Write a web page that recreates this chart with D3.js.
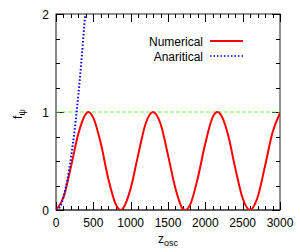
<!DOCTYPE html>
<html><head><meta charset="utf-8">
<script src="https://cdn.jsdelivr.net/npm/d3@7"></script>
<style>body{margin:0;background:#fff}svg{display:block}text{font-family:"Liberation Sans",Arial,sans-serif}</style>
</head><body><svg id="c" width="300" height="252"></svg>
<script>
const numZ = [0,100,200,300,400,433,500,600,700,800,866,900,1000,1100,1200,1299,1400,1500,1600,1700,1732,1800,1900,2000,2100,2165,2200,2300,2400,2500,2598,2700,2800,2900,3000];
const numF = [0,0.13,0.44,0.78,0.98,1.00,0.94,0.68,0.32,0.06,0.00,0.02,0.22,0.56,0.88,1.00,0.88,0.56,0.22,0.01,0.00,0.06,0.33,0.68,0.95,1.00,0.98,0.78,0.43,0.12,0.00,0.13,0.45,0.79,0.99];
const anaZ = [0,50,100,150,200,250,300,350,400];
const anaF = [0,0.03,0.13,0.30,0.53,0.82,1.18,1.61,2.10];
const refLevel = 1;
const xTickLabels = [0,500,1000,1500,2000,2500,3000];
const yTickLabels = [0,1,2];
const legendLabels = ["Numerical","Anaritical"];

const svg = d3.select("#c");
const L=56, R=280, T=14, B=210;
const x = d3.scaleLinear().domain([0,3000]).range([L,R]);
const y = d3.scaleLinear().domain([0,2]).range([B,T]);

svg.append("clipPath").attr("id","cp").append("rect").attr("x",L).attr("y",T).attr("width",R-L).attr("height",B-T);

// frame
svg.append("rect").attr("x",L).attr("y",T).attr("width",R-L).attr("height",B-T).attr("fill","none").attr("stroke","#222").attr("stroke-width",1);
svg.append("line").attr("x1",L).attr("x2",L).attr("y1",T).attr("y2",B).attr("stroke","#888").attr("stroke-width",2);
svg.append("line").attr("x1",L).attr("x2",R).attr("y1",B).attr("y2",B).attr("stroke","#555").attr("stroke-width",1.5);

// ticks
const minorX = d3.range(0,3001,100);
const g = svg.append("g").attr("stroke","#000").attr("stroke-width",1);
minorX.forEach(v=>{
  const len = v%500===0 ? 8 : 4;
  const px = Math.round(x(v))+0.5;
  g.append("line").attr("x1",px).attr("x2",px).attr("y1",B).attr("y2",B-len);
  g.append("line").attr("x1",px).attr("x2",px).attr("y1",T).attr("y2",T+len);
});
const minorY = d3.range(0,2.001,0.25);
minorY.forEach(v=>{
  const len = Math.abs(v-Math.round(v))<1e-6 ? 8 : 4;
  const py = Math.round(y(v))+0.5;
  g.append("line").attr("x1",L).attr("x2",L+len).attr("y1",py).attr("y2",py);
  g.append("line").attr("x1",R).attr("x2",R-len).attr("y1",py).attr("y2",py);
});

// tick labels
svg.selectAll(".xl").data(xTickLabels).enter().append("text")
  .attr("x",d=>x(d)).attr("y",227).attr("text-anchor","middle").attr("font-size",12).attr("fill","#000").text(d=>d);
svg.selectAll(".yl").data(yTickLabels).enter().append("text")
  .attr("x",49).attr("y",d=>y(d)+4.5).attr("text-anchor","end").attr("font-size",12).attr("fill","#000").text(d=>d);

// axis titles
const xt = svg.append("text").attr("x",158).attr("y",243).attr("font-size",12).attr("fill","#000");
xt.append("tspan").text("z");
xt.append("tspan").attr("dy",3).attr("font-size",9).text("osc");
const yt = svg.append("text").attr("transform","translate(22,114) rotate(-90)").attr("text-anchor","middle").attr("font-size",12).attr("fill","#000");
yt.append("tspan").text("f");
yt.append("tspan").attr("dy",3).attr("font-size",9).text("ψ");

const plot = svg.append("g").attr("clip-path","url(#cp)");
plot.append("line").attr("x1",L).attr("x2",R).attr("y1",y(refLevel)).attr("y2",y(refLevel))
  .attr("stroke","#66ff44").attr("stroke-width",1).attr("stroke-dasharray","4,2");

const num = numZ.map((z,i)=>[z,numF[i]]);
const ana = anaZ.map((z,i)=>[z,anaF[i]]);
const line = d3.line().x(d=>x(d[0])).y(d=>y(d[1])).curve(d3.curveMonotoneX);
plot.append("path").attr("d",line(num)).attr("fill","none").attr("stroke","#ff0000").attr("stroke-width",2);
plot.append("path").attr("d",d3.line().x(d=>x(d[0])).y(d=>y(d[1])).curve(d3.curveCatmullRom)(ana)).attr("fill","none").attr("stroke","#0000ff").attr("stroke-width",2).attr("stroke-dasharray","1.5,2");

// legend
const leg = [{t:legendLabels[0],c:"#ff0000",d:null,y:41},{t:legendLabels[1],c:"#0000ff",d:"1.5,2",y:56}];
leg.forEach(l=>{
  svg.append("text").attr("x",203).attr("y",l.y+4.5).attr("text-anchor","end").attr("font-size",12).attr("fill","#000").text(l.t);
  svg.append("line").attr("x1",210).attr("x2",243).attr("y1",l.y).attr("y2",l.y).attr("stroke",l.c).attr("stroke-width",l.d?1.5:2).attr("stroke-dasharray",l.d);
});
</script></body></html>
